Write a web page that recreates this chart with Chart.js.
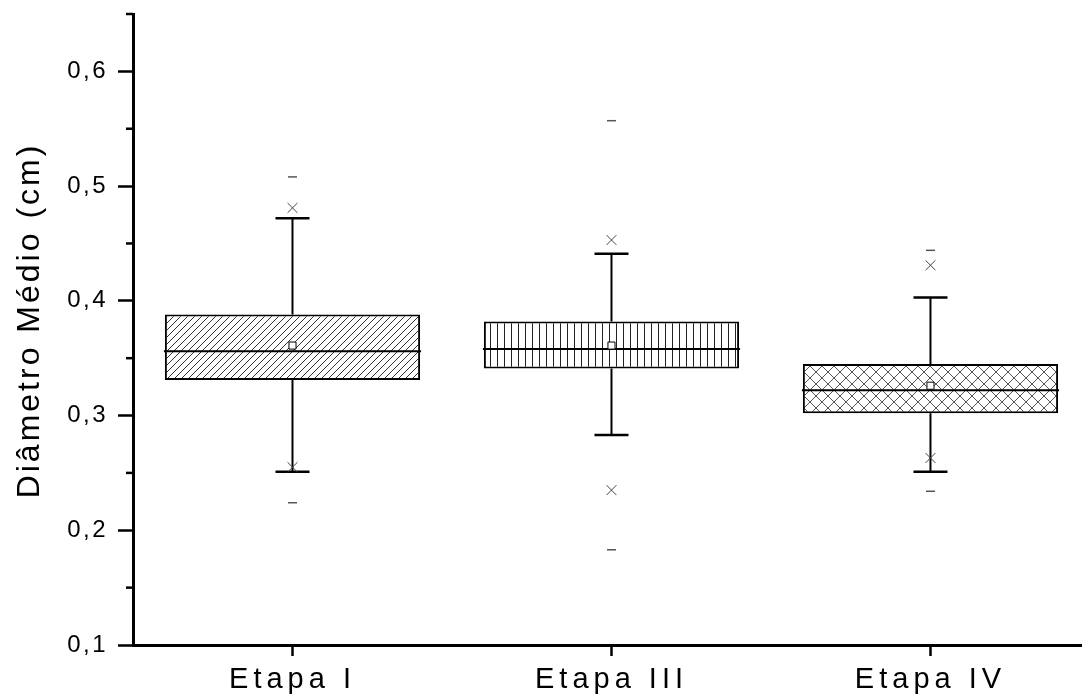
<!DOCTYPE html>
<html lang="pt">
<head>
  <meta charset="UTF-8">
  <title>Diâmetro Médio por Etapa</title>
  <script src="https://cdn.jsdelivr.net/npm/chart.js"></script>
  <style>
    body { margin: 0; background: #fff; }
    .wrap { width: 1082px; height: 697px; position: relative; }
  </style>
</head>
<body>
  <div class="wrap"><canvas id="boxChart"></canvas></div>

  <script>
    // valores (cm)
    const etapas = ['Etapa I', 'Etapa III', 'Etapa IV'];
    const q1 = [0.331, 0.341, 0.302];
    const q3 = [0.388, 0.382, 0.345];
    const medianas = [0.356, 0.358, 0.322];
    const medias = [0.361, 0.361, 0.326];
    const bigodeInf = [0.251, 0.283, 0.251];
    const bigodeSup = [0.472, 0.441, 0.403];
    const p1 = [0.255, 0.235, 0.263];
    const p99 = [0.481, 0.453, 0.431];
    const minimos = [0.224, 0.183, 0.234];
    const maximos = [0.508, 0.557, 0.444];

    const yTicks = [0.1, 0.2, 0.3, 0.4, 0.5, 0.6];
    const yMinor = [0.15, 0.25, 0.35, 0.45, 0.55, 0.65];

    const boxFrac = 0.8;
    const pos = etapas.map((_, i) => i + 1);

    // espaçamento entre letras, como no original
    const spacing = { x: { labels: '5px' }, y: { labels: '2.5px', title: '3px' } };

    class SpacedLinear extends Chart.LinearScale {
      drawLabels(area) {
        const c = this.ctx;
        c.save();
        c.letterSpacing = (spacing[this.id] || {}).labels || '0px';
        super.drawLabels(area);
        c.restore();
      }
      drawTitle() {
        const c = this.ctx;
        c.save();
        c.letterSpacing = (spacing[this.id] || {}).title || '0px';
        c.translate(0, -9); // título um pouco acima do centro do eixo
        super.drawTitle();
        c.restore();
      }
    }
    SpacedLinear.id = 'spacedLinear';
    SpacedLinear.defaults = Chart.LinearScale.defaults;
    Chart.register(SpacedLinear);

    function hatch(kind) {
      const c = document.createElement('canvas');
      const s = kind === 'cross' ? 12 : 7;
      c.width = s; c.height = s;
      const g = c.getContext('2d');
      g.fillStyle = '#fff';
      g.fillRect(0, 0, s, s);
      g.lineWidth = 1;
      g.beginPath();
      if (kind === 'diag') {
        g.strokeStyle = '#333';
        g.moveTo(-1, s + 1); g.lineTo(s + 1, -1);
        g.moveTo(-1, 1); g.lineTo(1, -1);
        g.moveTo(s - 1, s + 1); g.lineTo(s + 1, s - 1);
      } else if (kind === 'vert') {
        g.strokeStyle = '#222';
        g.moveTo(0.5, 0); g.lineTo(0.5, s);
      } else {
        g.strokeStyle = '#555';
        g.moveTo(0, 0); g.lineTo(s, s);
        g.moveTo(0, s); g.lineTo(s, 0);
      }
      g.stroke();
      return g.createPattern(c, 'repeat');
    }

    const minorTicks = {
      id: 'minorTicks',
      afterDraw(chart) {
        const y = chart.scales.y, ctx = chart.ctx, left = chart.chartArea.left;
        ctx.save();
        ctx.strokeStyle = '#000';
        ctx.lineWidth = 2.5;
        yMinor.forEach(v => {
          const py = y.getPixelForValue(v);
          ctx.beginPath();
          ctx.moveTo(left - 7, py);
          ctx.lineTo(left, py);
          ctx.stroke();
        });
        ctx.restore();
      }
    };

    // segmentos dos bigodes, separados por null
    const bigodes = [];
    pos.forEach((x, i) => {
      bigodes.push({ x, y: q3[i] }, { x, y: bigodeSup[i] }, { x, y: null });
      bigodes.push({ x, y: q1[i] }, { x, y: bigodeInf[i] }, { x, y: null });
    });

    const pts = arr => pos.map((x, i) => ({ x, y: arr[i] }));

    const font = 'Liberation Sans, Arial, sans-serif';

    new Chart(document.getElementById('boxChart'), {
      type: 'bar',
      data: {
        datasets: [
          {
            type: 'bar',
            data: pos.map((x, i) => ({ x, y: [q1[i], q3[i]] })),
            backgroundColor: [hatch('diag'), hatch('vert'), hatch('cross')],
            borderColor: '#000',
            borderWidth: 2,
            borderSkipped: false,
            categoryPercentage: 1,
            barPercentage: boxFrac,
            order: 5
          },
          {
            type: 'line',
            data: bigodes,
            borderColor: '#000',
            borderWidth: 2,
            pointRadius: 0,
            spanGaps: false,
            order: 4
          },
          {
            type: 'scatter',
            data: pts(bigodeInf).concat(pts(bigodeSup)),
            pointStyle: 'line',
            pointRadius: 17,
            pointHoverRadius: 17,
            borderColor: '#000',
            borderWidth: 2.5,
            order: 3
          },
          {
            type: 'scatter',
            data: pts(medianas),
            pointStyle: 'line',
            pointRadius: c => {
              const x = c.chart.scales.x;
              return x.getPixelForValue(1 + boxFrac / 2) - x.getPixelForValue(1) + 1;
            },
            borderColor: '#000',
            borderWidth: 2,
            order: 2
          },
          {
            type: 'scatter',
            data: pts(p1).concat(pts(p99)),
            pointStyle: 'crossRot',
            pointRadius: 7,
            pointHoverRadius: 7,
            borderColor: '#444',
            borderWidth: 1,
            order: 1
          },
          {
            type: 'scatter',
            data: pts(minimos).concat(pts(maximos)),
            pointStyle: 'line',
            pointRadius: 4.5,
            pointHoverRadius: 4.5,
            borderColor: '#555',
            borderWidth: 1.5,
            order: 1
          },
          {
            type: 'scatter',
            data: pts(medias),
            pointStyle: 'rect',
            pointRadius: 5,
            pointHoverRadius: 5,
            backgroundColor: '#fff',
            borderColor: '#000',
            borderWidth: 1,
            order: 0
          }
        ]
      },
      options: {
        responsive: true,
        maintainAspectRatio: false,
        animation: false,
        events: [],
        layout: { autoPadding: false, padding: { top: 14, left: 0, right: 0, bottom: 0 } },
        plugins: { legend: { display: false }, tooltip: { enabled: false } },
        scales: {
          x: {
            type: 'spacedLinear',
            offset: false,
            min: 0.5,
            max: 3.475,
            afterBuildTicks: s => { s.ticks = pos.map(v => ({ value: v })); },
            afterFit: s => { s.height = 52; s.paddingLeft = 0; s.paddingRight = 0; },
            grid: { offset: false, drawOnChartArea: false, drawTicks: true, tickLength: 11, tickWidth: 2.5, tickColor: '#000' },
            border: { display: true, color: '#000', width: 3 },
            ticks: {
              color: '#000',
              padding: 7,
              maxRotation: 0,
              autoSkip: false,
              font: { family: font, size: 29 },
              callback: v => etapas[v - 1] || ''
            }
          },
          y: {
            type: 'spacedLinear',
            min: 0.1,
            max: 0.65,
            afterBuildTicks: s => { s.ticks = yTicks.map(v => ({ value: v })); },
            afterFit: s => { s.width = 133; s.paddingTop = 0; s.paddingBottom = 0; },
            grid: { drawOnChartArea: false, drawTicks: true, tickLength: 15, tickWidth: 2.5, tickColor: '#000' },
            border: { display: true, color: '#000', width: 3 },
            ticks: {
              color: '#000',
              padding: 10,
              font: { family: font, size: 24 },
              callback: v => v.toFixed(1).replace('.', ',')
            },
            title: {
              display: true,
              text: 'Diâmetro Médio (cm)',
              color: '#000',
              padding: { top: 11, bottom: 0 },
              font: { family: font, size: 32 }
            }
          }
        }
      },
      plugins: [minorTicks]
    });
  </script>
</body>
</html>
